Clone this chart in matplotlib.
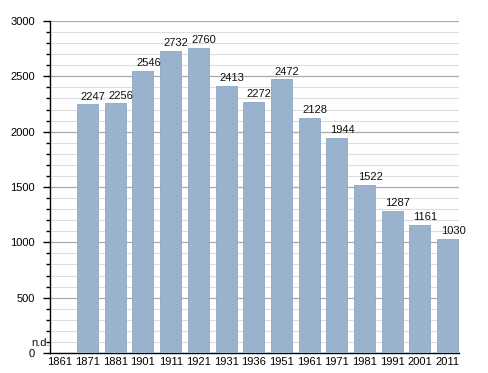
import matplotlib.pyplot as plt
import numpy as np

plt.rcParams['font.family'] = ['Liberation Sans', 'DejaVu Sans']

years = ['1861', '1871', '1881', '1901', '1911', '1921', '1931', '1936',
         '1951', '1961', '1971', '1981', '1991', '2001', '2011']
# 1861 has no data (n.d.)
population = [None, 2247, 2256, 2546, 2732, 2760, 2413, 2272,
              2472, 2128, 1944, 1522, 1287, 1161, 1030]

fig = plt.figure(figsize=(4.88, 3.73), dpi=100)
ax = fig.add_axes([0.1025, 0.0536, 0.8381, 0.8901])

x = np.arange(len(years))
for i, v in enumerate(population):
    if v is None:
        continue
    ax.bar(x[i], v, width=0.76, color='#99b3cf', edgecolor='#8ca8c6', linewidth=0.6, zorder=3)
    ax.annotate(str(v), (x[i], v), xytext=(4, 2), textcoords='offset points',
                ha='center', va='bottom', fontsize=8, color='#111111', zorder=4)

ax.text(0, 90, 'n.d.', transform=ax.get_yaxis_transform(), ha='right', va='center',
        fontsize=8, color='#111111')

ax.set_xlim(-0.354, 14.41)
ax.set_ylim(0, 3000)
ax.set_xticks(x)
ax.set_xticklabels(years)
ax.set_yticks(np.arange(0, 3001, 500))
ax.set_yticks(np.arange(0, 3001, 100), minor=True)

ax.grid(axis='y', which='major', color='#aaaaaa', linewidth=0.9, zorder=0)
ax.grid(axis='y', which='minor', color='#dddddd', linewidth=0.8, zorder=0)
ax.set_axisbelow(True)

ax.spines['top'].set_visible(False)
ax.spines['right'].set_visible(False)
ax.spines['left'].set_linewidth(1.0)
ax.spines['bottom'].set_linewidth(1.0)

ax.tick_params(axis='x', length=0, pad=3, labelsize=8)
ax.tick_params(axis='y', which='major', length=5, width=1, pad=6, labelsize=8)
ax.tick_params(axis='y', which='minor', length=3, width=1)

plt.savefig('out.png', dpi=100)
